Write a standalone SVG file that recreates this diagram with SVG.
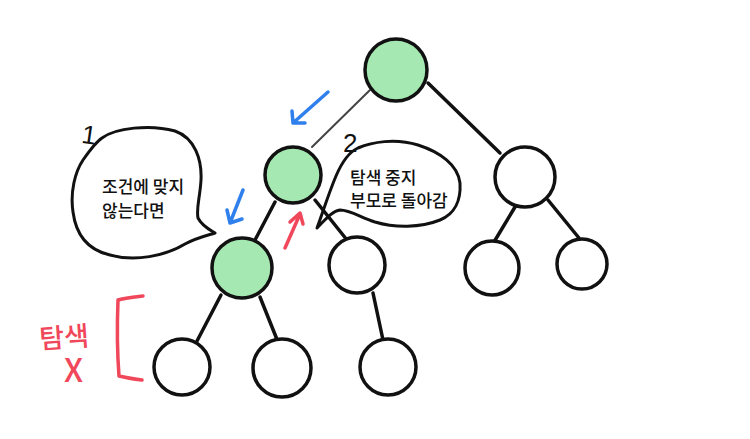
<svg xmlns="http://www.w3.org/2000/svg" width="750" height="439" viewBox="0 0 750 439">
<style>
.node{stroke:#111;stroke-width:3.5;fill:#fff}
.green{fill:#a6e8b2}
.edge{stroke:#111;stroke-width:3.5;fill:none;stroke-linecap:round}
.thin{stroke:#444;stroke-width:2}
.ink{stroke:#111;stroke-width:3;fill:none;stroke-linecap:round;stroke-linejoin:round}
.blue{stroke:#2f80ed;stroke-width:3.5;fill:none;stroke-linecap:round;stroke-linejoin:round}
.red{stroke:#f0475b;stroke-width:3.5;fill:none;stroke-linecap:round;stroke-linejoin:round}
.lbl{font-family:"Noto Sans CJK KR","Noto Sans",sans-serif;font-size:17px;font-weight:500;fill:#111}
.hand{font-family:"Liberation Sans",sans-serif;fill:#111}
.redt{font-family:"Noto Sans CJK KR",sans-serif;fill:#f0475b;font-weight:500}
</style>
<rect width="750" height="439" fill="#fff"/>
<g id="connectors">
<line class="edge thin" x1="370" y1="90" x2="312" y2="147"/>
<line class="edge" x1="428" y1="83" x2="500" y2="153"/>
<line class="edge" x1="275" y1="202" x2="255" y2="240"/>
<line class="edge" x1="315" y1="200" x2="347" y2="240"/>
<line class="edge" x1="515" y1="207" x2="494" y2="242"/>
<line class="edge" x1="548" y1="200" x2="579" y2="238"/>
<line class="edge" x1="221" y1="295" x2="197" y2="341"/>
<line class="edge" x1="260" y1="297" x2="278" y2="342"/>
<line class="edge" x1="373" y1="293" x2="383" y2="340"/>
</g>
<g id="root"><circle class="node green" cx="396" cy="70" r="31"/></g>
<g id="nodeA"><circle class="node green" cx="293" cy="175" r="28"/></g>
<g id="nodeB"><circle class="node" cx="525" cy="177" r="30"/></g>
<g id="nodeC"><circle class="node green" cx="242" cy="268" r="30"/></g>
<g id="nodeD"><circle class="node" cx="357" cy="265" r="28"/></g>
<g id="nodeE"><circle class="node" cx="492" cy="268" r="27"/></g>
<g id="nodeF"><circle class="node" cx="582" cy="264" r="25"/></g>
<g id="nodeG"><circle class="node" cx="182" cy="367" r="28"/></g>
<g id="nodeH"><circle class="node" cx="282" cy="368" r="29"/></g>
<g id="nodeI"><circle class="node" cx="388" cy="367" r="28"/></g>
<g id="bubble1">
<path class="ink" d="M102,138 C115,128 150,124 175,131 C195,138 202,160 201,180 C200,198 196,208 198,218 C202,226 210,230 215,233 C205,236 196,238 185,244 C165,256 135,262 110,255 C88,250 76,235 73,212 C70,192 75,172 83,160 C90,150 96,142 102,138 Z"/>
<text class="lbl" x="102" y="193">조건에 맞지</text>
<text class="lbl" x="102" y="217">않는다면</text>
<text class="hand" x="82" y="144" font-size="26" transform="rotate(8 90 134)">1</text>
</g>
<g id="bubble2">
<path class="ink" d="M358,148 C372,142 395,138 418,145 C440,152 458,165 460,183 C461,200 455,214 440,220 C420,228 395,228 375,222 C360,217 350,210 340,210 C332,211 325,220 317,228 C322,215 328,195 336,176 C342,162 349,152 358,148 Z"/>
<text class="lbl" x="350" y="184">탐색 중지</text>
<text class="lbl" x="350" y="207">부모로 돌아감</text>
<text class="hand" x="343" y="152" font-size="26">2</text>
</g>
<g id="arrows">
<path class="blue" d="M328,92 L293,123 M292,111 L293,123 L305,123"/>
<path class="blue" d="M243,190 L230,223 M227,210 L230,223 L242,219"/>
<path class="red" d="M285,248 L300,214 M290,222 L300,213 L303,224"/>
</g>
<g id="noSearch">
<path class="red" d="M143,296 C134,297 125,298 118,300 C117,325 117,350 119,376 C127,378 134,379 142,380"/>
<text class="redt" x="39" y="347" font-size="27" transform="rotate(-4 65 335)">탐색</text>
<text class="redt" x="64" y="382" font-family="Liberation Sans,sans-serif" font-size="32">X</text>
</g>
</svg>
